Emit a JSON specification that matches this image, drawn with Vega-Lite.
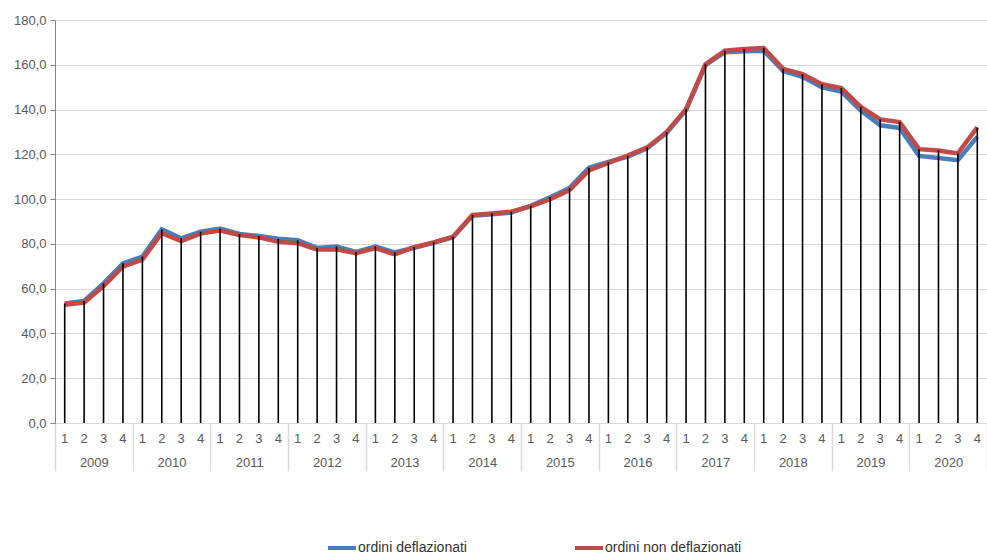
{
  "$schema": "https://vega.github.io/schema/vega-lite/v6.json",
  "width": 932,
  "height": 403,
  "autosize": {"type": "none"},
  "padding": {"left": 55, "top": 20, "right": 0, "bottom": 131},
  "config": {
    "locale": {"number": {"decimal": ",", "thousands": ".", "grouping": [3], "currency": ["", " €"]}},
    "view": {"stroke": null},
    "font": "Liberation Sans"
  },
  "data": {"values": [
    {"t":"2009-1","year":"2009","serie":"ordini deflazionati","valore":53.4},
    {"t":"2009-2","year":"2009","serie":"ordini deflazionati","valore":54.5},
    {"t":"2009-3","year":"2009","serie":"ordini deflazionati","valore":62.4},
    {"t":"2009-4","year":"2009","serie":"ordini deflazionati","valore":71.3},
    {"t":"2010-1","year":"2010","serie":"ordini deflazionati","valore":74.3},
    {"t":"2010-2","year":"2010","serie":"ordini deflazionati","valore":86.5},
    {"t":"2010-3","year":"2010","serie":"ordini deflazionati","valore":82.5},
    {"t":"2010-4","year":"2010","serie":"ordini deflazionati","valore":85.4},
    {"t":"2011-1","year":"2011","serie":"ordini deflazionati","valore":86.8},
    {"t":"2011-2","year":"2011","serie":"ordini deflazionati","valore":84.4},
    {"t":"2011-3","year":"2011","serie":"ordini deflazionati","valore":83.5},
    {"t":"2011-4","year":"2011","serie":"ordini deflazionati","valore":82.3},
    {"t":"2012-1","year":"2012","serie":"ordini deflazionati","valore":81.6},
    {"t":"2012-2","year":"2012","serie":"ordini deflazionati","valore":78.2},
    {"t":"2012-3","year":"2012","serie":"ordini deflazionati","valore":78.8},
    {"t":"2012-4","year":"2012","serie":"ordini deflazionati","valore":76.4},
    {"t":"2013-1","year":"2013","serie":"ordini deflazionati","valore":78.8},
    {"t":"2013-2","year":"2013","serie":"ordini deflazionati","valore":76.2},
    {"t":"2013-3","year":"2013","serie":"ordini deflazionati","valore":78.3},
    {"t":"2013-4","year":"2013","serie":"ordini deflazionati","valore":80.5},
    {"t":"2014-1","year":"2014","serie":"ordini deflazionati","valore":83.0},
    {"t":"2014-2","year":"2014","serie":"ordini deflazionati","valore":92.6},
    {"t":"2014-3","year":"2014","serie":"ordini deflazionati","valore":93.2},
    {"t":"2014-4","year":"2014","serie":"ordini deflazionati","valore":94.0},
    {"t":"2015-1","year":"2015","serie":"ordini deflazionati","valore":97.0},
    {"t":"2015-2","year":"2015","serie":"ordini deflazionati","valore":100.8},
    {"t":"2015-3","year":"2015","serie":"ordini deflazionati","valore":105.0},
    {"t":"2015-4","year":"2015","serie":"ordini deflazionati","valore":114.0},
    {"t":"2016-1","year":"2016","serie":"ordini deflazionati","valore":116.6},
    {"t":"2016-2","year":"2016","serie":"ordini deflazionati","valore":119.0},
    {"t":"2016-3","year":"2016","serie":"ordini deflazionati","valore":122.7},
    {"t":"2016-4","year":"2016","serie":"ordini deflazionati","valore":129.6},
    {"t":"2017-1","year":"2017","serie":"ordini deflazionati","valore":139.8},
    {"t":"2017-2","year":"2017","serie":"ordini deflazionati","valore":159.8},
    {"t":"2017-3","year":"2017","serie":"ordini deflazionati","valore":165.6},
    {"t":"2017-4","year":"2017","serie":"ordini deflazionati","valore":166.0},
    {"t":"2018-1","year":"2018","serie":"ordini deflazionati","valore":166.3},
    {"t":"2018-2","year":"2018","serie":"ordini deflazionati","valore":157.2},
    {"t":"2018-3","year":"2018","serie":"ordini deflazionati","valore":154.6},
    {"t":"2018-4","year":"2018","serie":"ordini deflazionati","valore":149.9},
    {"t":"2019-1","year":"2019","serie":"ordini deflazionati","valore":148.0},
    {"t":"2019-2","year":"2019","serie":"ordini deflazionati","valore":139.6},
    {"t":"2019-3","year":"2019","serie":"ordini deflazionati","valore":133.0},
    {"t":"2019-4","year":"2019","serie":"ordini deflazionati","valore":131.8},
    {"t":"2020-1","year":"2020","serie":"ordini deflazionati","valore":119.3},
    {"t":"2020-2","year":"2020","serie":"ordini deflazionati","valore":118.4},
    {"t":"2020-3","year":"2020","serie":"ordini deflazionati","valore":117.4},
    {"t":"2020-4","year":"2020","serie":"ordini deflazionati","valore":127.8},
    {"t":"2009-1","year":"2009","serie":"ordini non deflazionati","valore":52.8},
    {"t":"2009-2","year":"2009","serie":"ordini non deflazionati","valore":53.8},
    {"t":"2009-3","year":"2009","serie":"ordini non deflazionati","valore":61.2},
    {"t":"2009-4","year":"2009","serie":"ordini non deflazionati","valore":69.8},
    {"t":"2010-1","year":"2010","serie":"ordini non deflazionati","valore":73.0},
    {"t":"2010-2","year":"2010","serie":"ordini non deflazionati","valore":84.8},
    {"t":"2010-3","year":"2010","serie":"ordini non deflazionati","valore":81.3},
    {"t":"2010-4","year":"2010","serie":"ordini non deflazionati","valore":84.6},
    {"t":"2011-1","year":"2011","serie":"ordini non deflazionati","valore":86.0},
    {"t":"2011-2","year":"2011","serie":"ordini non deflazionati","valore":84.0},
    {"t":"2011-3","year":"2011","serie":"ordini non deflazionati","valore":82.9},
    {"t":"2011-4","year":"2011","serie":"ordini non deflazionati","valore":81.0},
    {"t":"2012-1","year":"2012","serie":"ordini non deflazionati","valore":80.3},
    {"t":"2012-2","year":"2012","serie":"ordini non deflazionati","valore":77.5},
    {"t":"2012-3","year":"2012","serie":"ordini non deflazionati","valore":77.6},
    {"t":"2012-4","year":"2012","serie":"ordini non deflazionati","valore":75.8},
    {"t":"2013-1","year":"2013","serie":"ordini non deflazionati","valore":78.1},
    {"t":"2013-2","year":"2013","serie":"ordini non deflazionati","valore":75.3},
    {"t":"2013-3","year":"2013","serie":"ordini non deflazionati","valore":78.5},
    {"t":"2013-4","year":"2013","serie":"ordini non deflazionati","valore":80.7},
    {"t":"2014-1","year":"2014","serie":"ordini non deflazionati","valore":83.2},
    {"t":"2014-2","year":"2014","serie":"ordini non deflazionati","valore":92.9},
    {"t":"2014-3","year":"2014","serie":"ordini non deflazionati","valore":93.6},
    {"t":"2014-4","year":"2014","serie":"ordini non deflazionati","valore":94.4},
    {"t":"2015-1","year":"2015","serie":"ordini non deflazionati","valore":96.8},
    {"t":"2015-2","year":"2015","serie":"ordini non deflazionati","valore":100.0},
    {"t":"2015-3","year":"2015","serie":"ordini non deflazionati","valore":104.0},
    {"t":"2015-4","year":"2015","serie":"ordini non deflazionati","valore":112.8},
    {"t":"2016-1","year":"2016","serie":"ordini non deflazionati","valore":116.2},
    {"t":"2016-2","year":"2016","serie":"ordini non deflazionati","valore":119.4},
    {"t":"2016-3","year":"2016","serie":"ordini non deflazionati","valore":123.1},
    {"t":"2016-4","year":"2016","serie":"ordini non deflazionati","valore":130.0},
    {"t":"2017-1","year":"2017","serie":"ordini non deflazionati","valore":140.2},
    {"t":"2017-2","year":"2017","serie":"ordini non deflazionati","valore":160.2},
    {"t":"2017-3","year":"2017","serie":"ordini non deflazionati","valore":166.3},
    {"t":"2017-4","year":"2017","serie":"ordini non deflazionati","valore":167.0},
    {"t":"2018-1","year":"2018","serie":"ordini non deflazionati","valore":167.5},
    {"t":"2018-2","year":"2018","serie":"ordini non deflazionati","valore":158.2},
    {"t":"2018-3","year":"2018","serie":"ordini non deflazionati","valore":155.8},
    {"t":"2018-4","year":"2018","serie":"ordini non deflazionati","valore":151.3},
    {"t":"2019-1","year":"2019","serie":"ordini non deflazionati","valore":149.6},
    {"t":"2019-2","year":"2019","serie":"ordini non deflazionati","valore":141.2},
    {"t":"2019-3","year":"2019","serie":"ordini non deflazionati","valore":135.6},
    {"t":"2019-4","year":"2019","serie":"ordini non deflazionati","valore":134.4},
    {"t":"2020-1","year":"2020","serie":"ordini non deflazionati","valore":122.3},
    {"t":"2020-2","year":"2020","serie":"ordini non deflazionati","valore":121.7},
    {"t":"2020-3","year":"2020","serie":"ordini non deflazionati","valore":120.4},
    {"t":"2020-4","year":"2020","serie":"ordini non deflazionati","valore":132.0}
  ]},
  "layer": [
    {
      "layer": [
        {
          "mark": {"type": "line", "strokeWidth": 4.5},
          "encoding": {
            "x": {"field": "t", "type": "ordinal", "axis": {"orient": "bottom", "title": null, "labelExpr": "split(datum.label, '-')[1]", "labelAngle": 0, "ticks": false, "domainColor": "#d9d9d9", "labelColor": "#595959", "labelFontSize": 13, "labelPadding": 9, "labelFont": "Liberation Sans"}},
            "y": {"field": "valore", "type": "quantitative", "scale": {"domain": [0, 180], "nice": false}, "axis": {"title": null, "values": [0, 20, 40, 60, 80, 100, 120, 140, 160, 180], "format": ".1f", "gridColor": "#d9d9d9", "domainColor": "#868686", "tickColor": "#868686", "tickSize": 5, "labelPadding": 4, "labelColor": "#595959", "labelFontSize": 13, "labelFont": "Liberation Sans"}},
            "color": {"field": "serie", "type": "nominal", "scale": {"domain": ["ordini deflazionati", "ordini non deflazionati"], "range": ["#4a7ebb", "#be4b48"]}, "legend": {"title": null, "orient": "none", "legendX": 271, "legendY": 512, "direction": "horizontal", "symbolType": "stroke", "symbolStrokeWidth": 4, "symbolSize": 784, "labelFontSize": 14, "labelColor": "#333333", "labelFont": "Liberation Sans", "columnPadding": 100, "labelOffset": 0, "padding": 0}}
          }
        },
        {
          "mark": {"type": "rule", "color": "black", "strokeWidth": 1.6},
          "encoding": {
            "x": {"field": "t", "type": "ordinal"},
            "y": {"aggregate": "max", "field": "valore", "type": "quantitative", "title": null},
            "y2": {"datum": 0}
          }
        }
      ]
    },
    {
      "mark": {"type": "point", "opacity": 0},
      "encoding": {
        "x": {"field": "year", "type": "ordinal", "scale": {"type": "band", "paddingInner": 0, "paddingOuter": 0}, "axis": {"orient": "bottom", "title": null, "tickBand": "extent", "tickSize": 48, "tickColor": "#d9d9d9", "tickWidth": 1.5, "domain": false, "labelPadding": -15, "labelAngle": 0, "labelColor": "#595959", "labelFontSize": 13, "labelFont": "Liberation Sans"}},
        "y": {"field": "valore", "type": "quantitative", "title": null}
      }
    }
  ],
  "resolve": {"scale": {"x": "independent"}, "axis": {"x": "independent"}}
}
